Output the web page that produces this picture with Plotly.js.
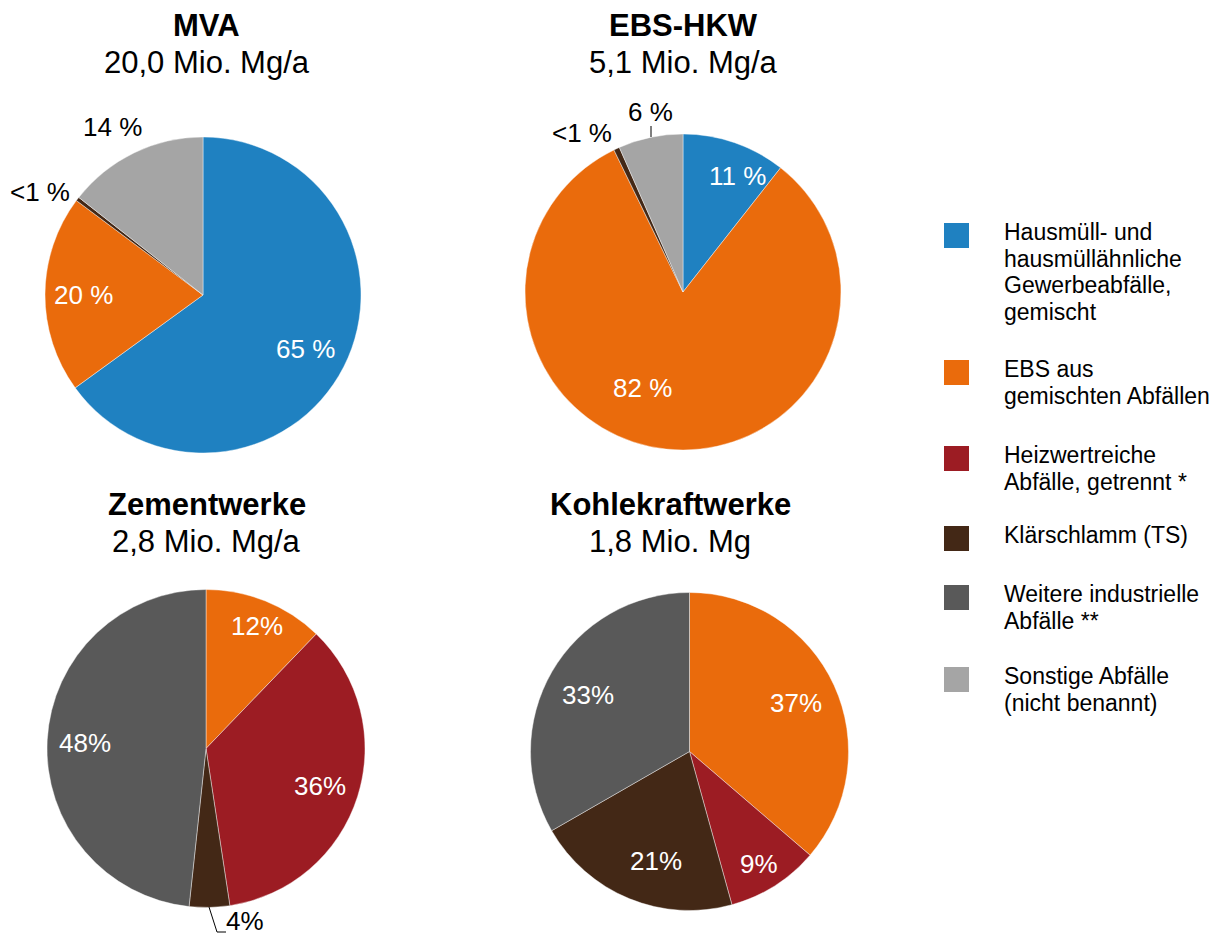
<!DOCTYPE html>
<html>
<head>
<meta charset="utf-8">
<script src="https://cdn.plot.ly/plotly-3.0.1.min.js"></script>
<style>html,body{margin:0;padding:0;background:#fff;}#chart{width:1218px;height:939px;}</style>
</head>
<body>
<div id="chart"></div>
<script>
// ---------- DATA ----------
const categories = [
  "Hausmüll- und hausmüllähnliche Gewerbeabfälle, gemischt",
  "EBS aus gemischten Abfällen",
  "Heizwertreiche Abfälle, getrennt *",
  "Klärschlamm (TS)",
  "Weitere industrielle Abfälle **",
  "Sonstige Abfälle (nicht benannt)"
];
const legendLines = [
  ["Hausmüll- und", "hausmüllähnliche", "Gewerbeabfälle,", "gemischt"],
  ["EBS aus", "gemischten Abfällen"],
  ["Heizwertreiche", "Abfälle, getrennt *"],
  ["Klärschlamm (TS)"],
  ["Weitere industrielle", "Abfälle **"],
  ["Sonstige Abfälle", "(nicht benannt)"]
];
const categoryColors = ["#1F81C1", "#EA6B0C", "#9C1C23", "#432816", "#595959", "#A5A5A5"];

const chartTitles = ["MVA", "EBS-HKW", "Zementwerke", "Kohlekraftwerke"];
const chartSubtitles = ["20,0 Mio. Mg/a", "5,1 Mio. Mg/a", "2,8 Mio. Mg/a", "1,8 Mio. Mg"];

// slice category indices and values (percent), clockwise from 12 o'clock
const mvaCats = [0, 1, 3, 5];
const mvaValues = [65, 20.2, 0.4, 14.4];
const mvaLabels = ["65 %", "20 %", "<1 %", "14 %"];

const ebsCats = [0, 1, 3, 5];
const ebsValues = [10.6, 82.2, 0.6, 6.6];
const ebsLabels = ["11 %", "82 %", "<1 %", "6 %"];

const zementCats = [1, 2, 3, 4];
const zementValues = [12.2, 35.4, 4.1, 48.3];
const zementLabels = ["12%", "36%", "4%", "48%"];

const kohleCats = [1, 2, 3, 4];
const kohleValues = [36.3, 9.4, 21.0, 33.3];
const kohleLabels = ["37%", "9%", "21%", "33%"];

// ---------- LAYOUT HELPERS ----------
const W = 1218, H = 939;
const px = x => x / W;
const py = y => 1 - y / H;
const esc = s => s.replace(/&/g, "&amp;").replace(/</g, "&lt;").replace(/>/g, "&gt;");

const pies = [
  {cats: mvaCats, values: mvaValues, labels: mvaLabels, cx: 203, cy: 295, r: 158,
   labelPos: [[305, 349, 'w'], [83, 295, 'w'], [40, 192, 'k'], [112, 127, 'k']],
   titlePos: [207, 25.5, 62.5]},
  {cats: ebsCats, values: ebsValues, labels: ebsLabels, cx: 683, cy: 292, r: 158,
   labelPos: [[737, 176, 'w'], [642, 388, 'w'], [582, 133, 'k'], [650, 112, 'k']],
   titlePos: [683, 25.5, 62.5]},
  {cats: zementCats, values: zementValues, labels: zementLabels, cx: 206, cy: 748.5, r: 159,
   labelPos: [[257, 626, 'w'], [320, 786, 'w'], [245, 921, 'k'], [85, 743, 'w']],
   titlePos: [207, 504.5, 541.5]},
  {cats: kohleCats, values: kohleValues, labels: kohleLabels, cx: 689.5, cy: 751.5, r: 159,
   labelPos: [[796, 703, 'w'], [759, 864, 'w'], [656, 861, 'w'], [588, 695, 'w']],
   titlePos: [670, 504.5, 541.5]}
];

const FONT = "Liberation Sans, Arial, Helvetica, sans-serif";
const traces = [];
const annotations = [];
const shapes = [];

pies.forEach((p, i) => {
  traces.push({
    type: 'pie',
    values: p.values,
    labels: p.cats.map(c => categories[c]),
    marker: {colors: p.cats.map(c => categoryColors[c]), line: {color: 'rgba(255,255,255,0.7)', width: 0.6}},
    sort: false,
    direction: 'clockwise',
    rotation: 0,
    textinfo: 'none',
    hoverinfo: 'label+percent',
    showlegend: false,
    domain: {x: [px(p.cx - p.r), px(p.cx + p.r)], y: [py(p.cy + p.r), py(p.cy - p.r)]}
  });
  p.labels.forEach((t, k) => {
    const [x, y, c] = p.labelPos[k];
    annotations.push({
      xref: 'paper', yref: 'paper', x: px(x), y: py(y), xanchor: 'center', yanchor: 'middle',
      text: esc(t), showarrow: false,
      font: {family: FONT, size: 26, color: c === 'w' ? '#ffffff' : '#000000'}
    });
  });
  annotations.push({
    xref: 'paper', yref: 'paper', x: px(p.titlePos[0]), y: py(p.titlePos[1]), xanchor: 'center', yanchor: 'middle',
    text: '<b>' + esc(chartTitles[i]) + '</b>', showarrow: false,
    font: {family: FONT, size: 31, color: '#000000'}
  });
  annotations.push({
    xref: 'paper', yref: 'paper', x: px(p.titlePos[0]), y: py(p.titlePos[2]), xanchor: 'center', yanchor: 'middle',
    text: esc(chartSubtitles[i]), showarrow: false,
    font: {family: FONT, size: 31, color: '#000000'}
  });
});

// leader lines
shapes.push({type: 'line', xref: 'paper', yref: 'paper', x0: px(651), y0: py(126), x1: px(651), y1: py(137),
             line: {color: '#000000', width: 1}});
shapes.push({type: 'path', xref: 'paper', yref: 'paper',
             path: `M ${px(209)} ${py(907)} L ${px(217)} ${py(932)} L ${px(226)} ${py(932)}`,
             line: {color: '#000000', width: 1}});

// legend
const legendSquareTops = [223, 360, 446, 526, 585, 667];
const lineGap = 26.7;
legendLines.forEach((lines, i) => {
  const top = legendSquareTops[i];
  shapes.push({type: 'rect', xref: 'paper', yref: 'paper',
               x0: px(944), x1: px(969), y0: py(top + 25), y1: py(top),
               fillcolor: categoryColors[i], line: {width: 0}});
  lines.forEach((ln, j) => {
    const baseline = top + 17 + j * lineGap;
    annotations.push({
      xref: 'paper', yref: 'paper', x: px(1002), y: py(baseline - 8), xanchor: 'left', yanchor: 'middle',
      text: esc(ln), showarrow: false,
      font: {family: FONT, size: 23, color: '#000000'}
    });
  });
});

const layout = {
  width: W, height: H,
  margin: {l: 0, r: 0, t: 0, b: 0, pad: 0},
  paper_bgcolor: '#ffffff',
  plot_bgcolor: '#ffffff',
  showlegend: false,
  font: {family: FONT},
  annotations: annotations,
  shapes: shapes
};

Plotly.newPlot('chart', traces, layout, {displayModeBar: false, staticPlot: true});
</script>
</body>
</html>
